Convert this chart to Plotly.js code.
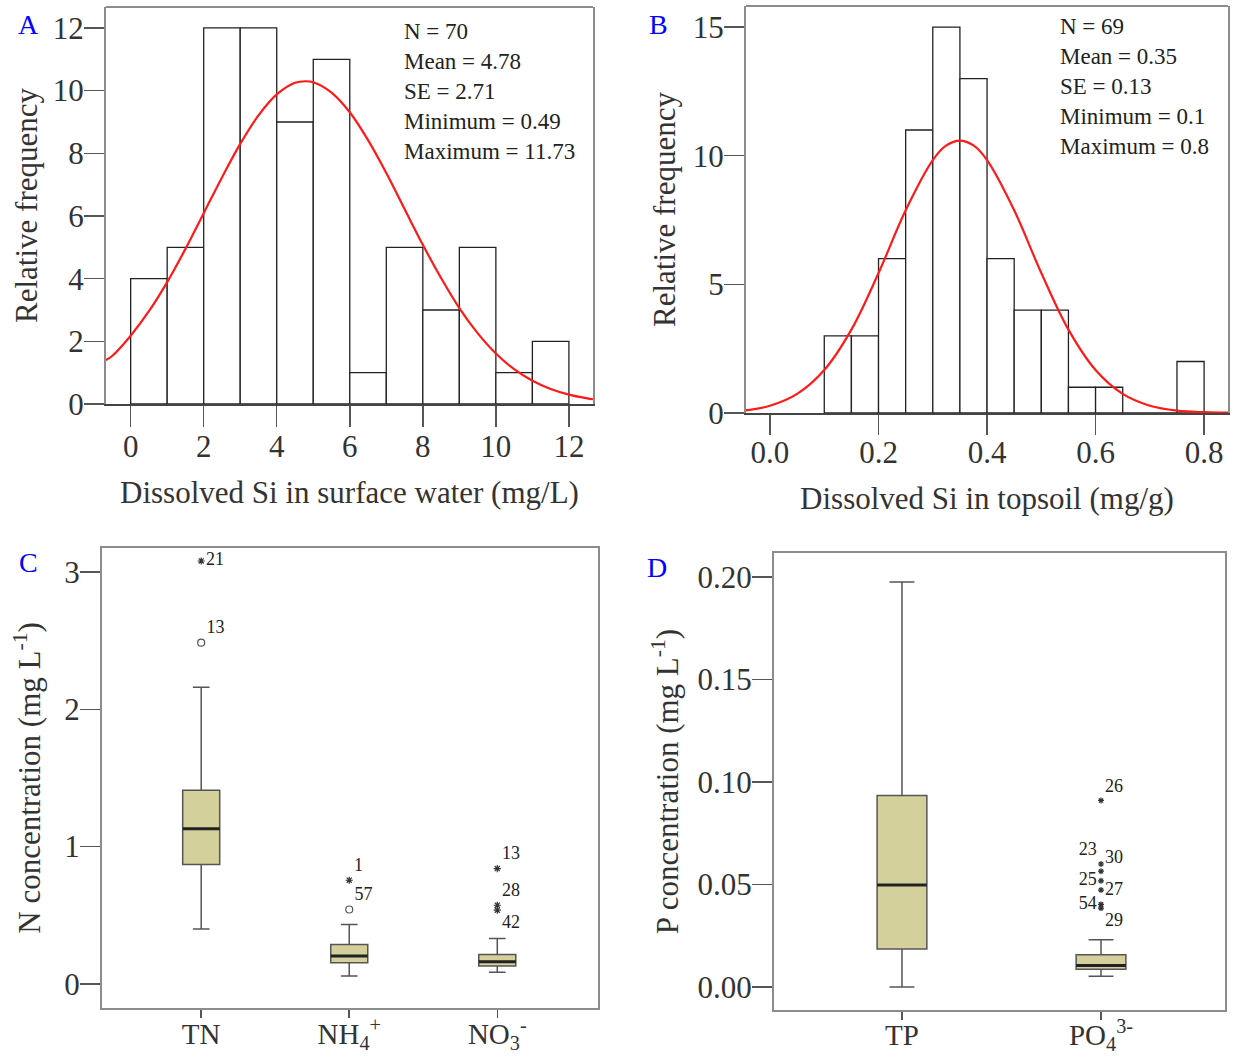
<!DOCTYPE html>
<html>
<head>
<meta charset="utf-8">
<script src="https://cdn.plot.ly/plotly-3.0.1.min.js"></script>
<style>html,body{margin:0;padding:0;background:#fff;}#chart{width:1238px;height:1057px;}</style>
</head>
<body>
<div id="chart"></div>
<script>
// ---------- Panel A data ----------
const binCentersA = [0.5,1.5,2.5,3.5,4.5,5.5,6.5,7.5,8.5,9.5,10.5,11.5];
const countsA     = [4,5,12,12,9,11,1,5,3,5,1,2];
const binWidthA = 1;
const curveXA = [-0.68,-0.5,0,0.5,1,1.5,2,2.5,3,3.5,4,4.5,4.78,5,5.5,6,6.5,7,7.5,8,8.5,9,9.5,10,10.5,11,11.5,12,12.5,12.66];
const curveYA = [1.40,1.54,2.18,2.96,3.89,4.95,6.09,7.23,8.30,9.21,9.88,10.25,10.30,10.27,9.94,9.31,8.42,7.37,6.22,5.08,4.02,3.06,2.26,1.61,1.11,0.74,0.48,0.30,0.18,0.15];
const statsA = ["N = 70","Mean = 4.78","SE = 2.71","Minimum = 0.49","Maximum = 11.73"];

// ---------- Panel B data ----------
const binCentersB = [0.125,0.175,0.225,0.275,0.325,0.375,0.425,0.475,0.525,0.575,0.625,0.675,0.725,0.775];
const countsB     = [3,3,6,11,15,13,6,4,4,1,1,0,0,2];
const binWidthB = 0.05;
const curveXB = [-0.045,0,0.05,0.1,0.15,0.2,0.25,0.3,0.325,0.35,0.375,0.4,0.45,0.5,0.55,0.6,0.65,0.7,0.75,0.8,0.845];
const curveYB = [0.10,0.28,0.74,1.67,3.24,5.44,7.88,9.83,10.40,10.59,10.40,9.83,7.88,5.44,3.24,1.67,0.74,0.28,0.09,0.03,0.01];
const statsB = ["N = 69","Mean = 0.35","SE = 0.13","Minimum = 0.1","Maximum = 0.8"];

// ---------- Panel C data ----------
const catsC = ["TN","NH<sub>4</sub><sup>+</sup>","NO<sub>3</sub><sup>-</sup>"];
const lowC = [0.40,0.058,0.085];
const q1C  = [0.87,0.155,0.131];
const medC = [1.13,0.203,0.162];
const q3C  = [1.41,0.288,0.215];
const highC= [2.16,0.433,0.331];
const outCircleCatC = [0,1];
const outCircleValC = [2.485,0.542];
const outCircleLabC = ["13","57"];
const outStarCatC = [0,1,2,2,2];
const outStarValC = [3.08,0.755,0.84,0.573,0.537];
const outStarLabC = ["21","1","13","28","42"];

// ---------- Panel D data ----------
const catsD = ["TP","PO<sub>4</sub><sup>3-</sup>"];
const lowD = [0.0,0.0052];
const q1D  = [0.0185,0.0087];
const medD = [0.0497,0.0105];
const q3D  = [0.0934,0.0157];
const highD= [0.1976,0.023];
const outStarCatD = [1,1,1,1,1,1,1];
const outStarValD = [0.091,0.060,0.0565,0.0518,0.0473,0.0403,0.0385];
const outStarLabD = ["26","23","30","25","27","54","29"];
const outStarPosD = ["top right","top left","top right","middle left","middle right","middle left","bottom right"];

const FONT = "'Liberation Serif', 'Times New Roman', serif";
const FRAME = "#8c8c8c";
const TICKC = "#555";
const BOXFILL = "#d4d09b";

function medianLine(meds, width){
  const xs=[], ys=[];
  meds.forEach((m,i)=>{ xs.push(i-width/2, i+width/2, null); ys.push(m,m,null); });
  return {xs, ys};
}

const traces = [];
// A histogram
traces.push({type:"bar", x:binCentersA, y:countsA, width:binWidthA, xaxis:"x", yaxis:"y",
  marker:{color:"#ffffff", line:{color:"#222", width:1.3}}, showlegend:false});
traces.push({type:"scatter", mode:"lines", x:curveXA, y:curveYA, xaxis:"x", yaxis:"y",
  line:{color:"#ff1a1a", width:2.2, shape:"spline"}, showlegend:false});
// B histogram
traces.push({type:"bar", x:binCentersB, y:countsB, width:binWidthB, xaxis:"x2", yaxis:"y2",
  marker:{color:"#ffffff", line:{color:"#222", width:1.3}}, showlegend:false});
traces.push({type:"scatter", mode:"lines", x:curveXB, y:curveYB, xaxis:"x2", yaxis:"y2",
  line:{color:"#ff1a1a", width:2.2, shape:"spline"}, showlegend:false});

// C boxes
traces.push({type:"box", x:[0,1,2], q1:q1C, median:medC, q3:q3C, lowerfence:lowC, upperfence:highC,
  width:0.25, whiskerwidth:0.45, boxpoints:false, fillcolor:BOXFILL, line:{color:"#555", width:1.5},
  xaxis:"x3", yaxis:"y3", showlegend:false});
const mC = medianLine(medC, 0.25);
traces.push({type:"scatter", mode:"lines", x:mC.xs, y:mC.ys, xaxis:"x3", yaxis:"y3",
  line:{color:"#222", width:3}, showlegend:false, hoverinfo:"skip"});
traces.push({type:"scatter", mode:"markers+text", x:outCircleCatC, y:outCircleValC, text:outCircleLabC,
  textposition:"top right", textfont:{family:FONT, size:18, color:"#222"},
  marker:{symbol:"circle-open", size:7, color:"#555", line:{width:1.2}}, xaxis:"x3", yaxis:"y3", showlegend:false});
traces.push({type:"scatter", mode:"markers+text", x:outStarCatC, y:outStarValC, text:outStarLabC,
  textposition:["middle right","top right","top right","top right","bottom right"], textfont:{family:FONT, size:18, color:"#222"},
  marker:{symbol:"asterisk-open", size:6, color:"#333", line:{width:1.2, color:"#333"}}, xaxis:"x3", yaxis:"y3", showlegend:false});

// D boxes
traces.push({type:"box", x:[0,1], q1:q1D, median:medD, q3:q3D, lowerfence:lowD, upperfence:highD,
  width:0.25, whiskerwidth:0.5, boxpoints:false, fillcolor:BOXFILL, line:{color:"#555", width:1.5},
  xaxis:"x4", yaxis:"y4", showlegend:false});
const mD = medianLine(medD, 0.25);
traces.push({type:"scatter", mode:"lines", x:mD.xs, y:mD.ys, xaxis:"x4", yaxis:"y4",
  line:{color:"#222", width:3}, showlegend:false, hoverinfo:"skip"});
traces.push({type:"scatter", mode:"markers+text", x:outStarCatD, y:outStarValD, text:outStarLabD,
  textposition:outStarPosD, textfont:{family:FONT, size:18, color:"#222"},
  marker:{symbol:"asterisk-open", size:5, color:"#333", line:{width:1.2, color:"#333"}}, xaxis:"x4", yaxis:"y4", showlegend:false});

const tickFont = {family:FONT, size:31, color:"#333"};
const catFont = {family:FONT, size:29, color:"#333"};
const titleFont = {family:FONT, size:31, color:"#333"};

function frameAxisY(extra){ return Object.assign({showline:true, mirror:true, linecolor:FRAME, linewidth:2,
  ticks:"outside", ticklen:20, tickwidth:1.5, tickcolor:TICKC, tickfont:tickFont, showgrid:false, zeroline:false,
  ticklabelstandoff:-6, fixedrange:true}, extra); }

const layout = {
  width:1238, height:1057, margin:{l:0,r:0,t:0,b:0}, paper_bgcolor:"#fff", plot_bgcolor:"#fff",
  font:{family:FONT, color:"#333"}, showlegend:false, barmode:"overlay",
  xaxis:{domain:[0.0856,0.4790], anchor:"y", range:[-0.676,12.66], tickvals:[0,2,4,6,8,10,12],
    showline:true, linecolor:"#444", linewidth:2, mirror:false, ticks:"outside", ticklen:21, tickwidth:1.5, tickcolor:TICKC,
    tickfont:tickFont, showgrid:false, zeroline:false, ticklabelstandoff:-7,
    title:{text:"Dissolved Si in surface water (mg/L)", font:titleFont, standoff:18}},
  yaxis:frameAxisY({domain:[0.6178,0.9934], anchor:"x", range:[0,12.67], tickvals:[0,2,4,6,8,10,12],
    title:{text:"Relative frequency", font:titleFont, standoff:6}}),
  xaxis2:{domain:[0.6026,0.9919], anchor:"y2", range:[-0.0442,0.844], tickvals:[0,0.2,0.4,0.6,0.8], tickformat:".1f",
    showline:true, linecolor:"#444", linewidth:2, mirror:false, ticks:"outside", ticklen:20, tickwidth:1.5, tickcolor:TICKC,
    tickfont:tickFont, showgrid:false, zeroline:false, ticklabelstandoff:-9,
    title:{text:"Dissolved Si in topsoil (mg/g)", font:titleFont, standoff:18}},
  yaxis2:frameAxisY({domain:[0.6093,0.9943], anchor:"x2", range:[0,15.82], tickvals:[0,5,10,15],
    title:{text:"Relative frequency", font:titleFont, standoff:8}}),
  xaxis3:{domain:[0.0824,0.4830], anchor:"y3", range:[-0.67,2.68], tickvals:[0,1,2], ticktext:catsC,
    showline:true, mirror:true, linecolor:FRAME, linewidth:2, ticks:"outside", ticklen:8, tickwidth:1.5, tickcolor:TICKC,
    tickfont:catFont, showgrid:false, zeroline:false, ticklabelstandoff:-9},
  yaxis3:frameAxisY({domain:[0.0464,0.4816], anchor:"x3", range:[-0.175,3.175], tickvals:[0,1,2,3],
    title:{text:"N concentration (mg L<sup>-1</sup>)", font:titleFont, standoff:14}}),
  xaxis4:{domain:[0.6252,0.9895], anchor:"y4", range:[-0.643,1.623], tickvals:[0,1], ticktext:catsD,
    showline:true, mirror:true, linecolor:FRAME, linewidth:2, ticks:"outside", ticklen:8, tickwidth:1.5, tickcolor:TICKC,
    tickfont:catFont, showgrid:false, zeroline:false, ticklabelstandoff:-10},
  yaxis4:frameAxisY({domain:[0.0445,0.4768], anchor:"x4", range:[-0.0112,0.2117], tickvals:[0,0.05,0.1,0.15,0.2], tickformat:".2f",
    title:{text:"P concentration (mg L<sup>-1</sup>)", font:titleFont, standoff:10}}),
  shapes:[
    {type:"line", xref:"x domain", yref:"y domain", x0:0, x1:1, y0:1, y1:1, line:{color:FRAME, width:2}},
    {type:"line", xref:"x2 domain", yref:"y2 domain", x0:0, x1:1, y0:1, y1:1, line:{color:FRAME, width:2}}
  ],
  annotations:[
    {xref:"x domain", yref:"y domain", x:0.607, y:0.975, xanchor:"left", yanchor:"top", align:"left", showarrow:false,
      text:statsA.join("<br>"), font:{family:FONT, size:23, color:"#222"}},
    {xref:"x2 domain", yref:"y2 domain", x:0.648, y:0.985, xanchor:"left", yanchor:"top", align:"left", showarrow:false,
      text:statsB.join("<br>"), font:{family:FONT, size:23, color:"#222"}},
    {xref:"paper", yref:"paper", x:28/1238, y:1-25/1057, xanchor:"center", yanchor:"middle", text:"A", showarrow:false, font:{family:FONT, size:28, color:"#0000ff"}},
    {xref:"paper", yref:"paper", x:659/1238, y:1-25/1057, xanchor:"center", yanchor:"middle", text:"B", showarrow:false, font:{family:FONT, size:28, color:"#0000ff"}},
    {xref:"paper", yref:"paper", x:28/1238, y:1-562/1057, xanchor:"center", yanchor:"middle", text:"C", showarrow:false, font:{family:FONT, size:28, color:"#0000ff"}},
    {xref:"paper", yref:"paper", x:657/1238, y:1-567/1057, xanchor:"center", yanchor:"middle", text:"D", showarrow:false, font:{family:FONT, size:28, color:"#0000ff"}}
  ]
};

Plotly.newPlot("chart", traces, layout, {staticPlot:true, displayModeBar:false});
</script>
</body>
</html>
